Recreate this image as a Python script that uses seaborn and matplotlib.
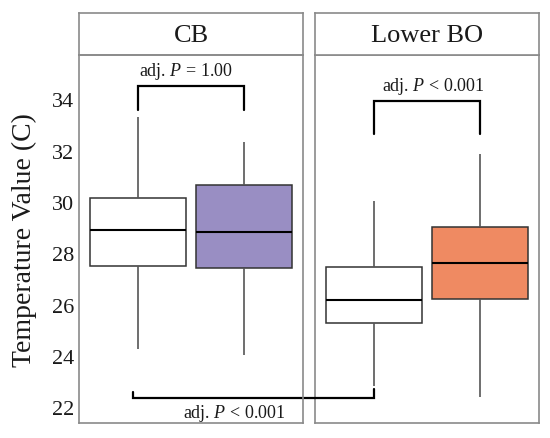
import numpy as np
import pandas as pd
import matplotlib
matplotlib.use("Agg")
import matplotlib.pyplot as plt
import seaborn as sns

# ---------------- data ----------------
panels = ["CB", "Lower BO"]
groups = ["Baseline", "Event"]
# five-number summaries: min, Q1, median, Q3, max
cb_baseline = [24.27, 27.52, 28.91, 30.15, 33.31]
cb_event = [24.04, 27.42, 28.82, 30.67, 32.35]
bo_baseline = [22.84, 25.28, 26.18, 27.48, 30.05]
bo_event = [22.39, 26.22, 27.61, 29.04, 31.87]
y_ticks = [22, 24, 26, 28, 30, 32, 34]
p_within = ["adj. $P$ = 1.00", "adj. $P$ < 0.001"]
p_between = "adj. $P$ < 0.001"

fill_colors = {"CB": ["#ffffff", "#998ec3"], "Lower BO": ["#ffffff", "#ef8a62"]}

rows = []
for panel, series in zip(panels, [[cb_baseline, cb_event], [bo_baseline, bo_event]]):
    for g, vals in zip(groups, series):
        for v in vals:
            rows.append({"panel": panel, "group": g, "value": v})
df = pd.DataFrame(rows)

# ---------------- style ----------------
sns.set_theme(style="white")
plt.rcParams["font.family"] = ["Liberation Serif", "DejaVu Serif"]
plt.rcParams["mathtext.fontset"] = "custom"
plt.rcParams["mathtext.rm"] = "Liberation Serif"
plt.rcParams["mathtext.it"] = "Liberation Serif:italic"

fig = plt.figure(figsize=(5.5, 4.39), dpi=100)
W, H = 550, 439
panel_x = [79, 315]
panel_w = 224
top_px, bot_px, strip_top = 56, 424, 14
border = "#8a8a8a"
ylim = (21.39, 35.73)
xlim = (-0.55, 1.55)

axes = []
for i, panel in enumerate(panels):
    ax = fig.add_axes([panel_x[i] / W, 1 - bot_px / H, panel_w / W, (bot_px - top_px) / H])
    sub = df[df["panel"] == panel]
    sns.boxplot(data=sub, x="group", y="value", hue="group", order=groups, hue_order=groups,
                palette=fill_colors[panel], saturation=1, width=0.9, whis=(0, 100),
                showcaps=False, linecolor="#333333", linewidth=1.1, fliersize=0, legend=False,
                medianprops=dict(color="black", linewidth=1.5),
                whiskerprops=dict(color="#555555", linewidth=1.2), ax=ax)
    ax.set_xlim(*xlim)
    ax.set_ylim(*ylim)
    ax.set_xlabel("")
    ax.set_xticks([])
    for s in ax.spines.values():
        s.set_color(border)
        s.set_linewidth(1.2)
    if i == 0:
        ax.set_yticks(y_ticks)
        ax.set_yticklabels([str(t) for t in y_ticks], fontsize=16, color="#1a1a1a")
        ax.tick_params(axis="y", length=0, pad=3.5)
        ax.set_ylabel("Temperature Value (C)", fontsize=20, color="#1a1a1a", labelpad=11)
    else:
        ax.set_yticks([])
        ax.set_ylabel("")
    # strip
    sax = fig.add_axes([panel_x[i] / W, 1 - top_px / H, panel_w / W, (top_px - strip_top) / H])
    sax.set_xticks([]); sax.set_yticks([])
    for s in sax.spines.values():
        s.set_color(border)
        s.set_linewidth(1.2)
    sax.text(0.5, 0.47, panel, ha="center", va="center", fontsize=19, color="#1a1a1a",
             transform=sax.transAxes)
    axes.append(ax)

ax1, ax2 = axes
# keep the left panel (and its cross-panel bracket) on top of the right panel
ax1.set_zorder(3)
ax1.patch.set_visible(False)

# within-panel brackets
br = [(34.53, 33.58, 34.94, 0.45), (33.94, 32.65, 34.36, 0.56)]
for ax, (ytop, yleg, ytxt, xt), lab in zip(axes, br, p_within):
    ax.plot([0, 0, 1, 1], [yleg, ytop, ytop, yleg], color="black", linewidth=1.6,
            solid_joinstyle="miter", clip_on=False)
    ax.text(xt, ytxt, lab, ha="center", va="baseline", fontsize=13, color="#1a1a1a")

# between-panel bracket (CB baseline vs Lower BO baseline)
xr_disp = ax2.transData.transform((0, 22.36))
xr = ax1.transData.inverted().transform(xr_disp)[0]
ax1.plot([-0.04, -0.04, xr, xr], [22.61, 22.36, 22.36, 22.71], color="black", linewidth=1.6,
         solid_joinstyle="miter", clip_on=False)
ax1.text(0.91, 22.2, p_between, ha="center", va="top", fontsize=13, color="#1a1a1a")

fig.savefig("out.png", dpi=100)
